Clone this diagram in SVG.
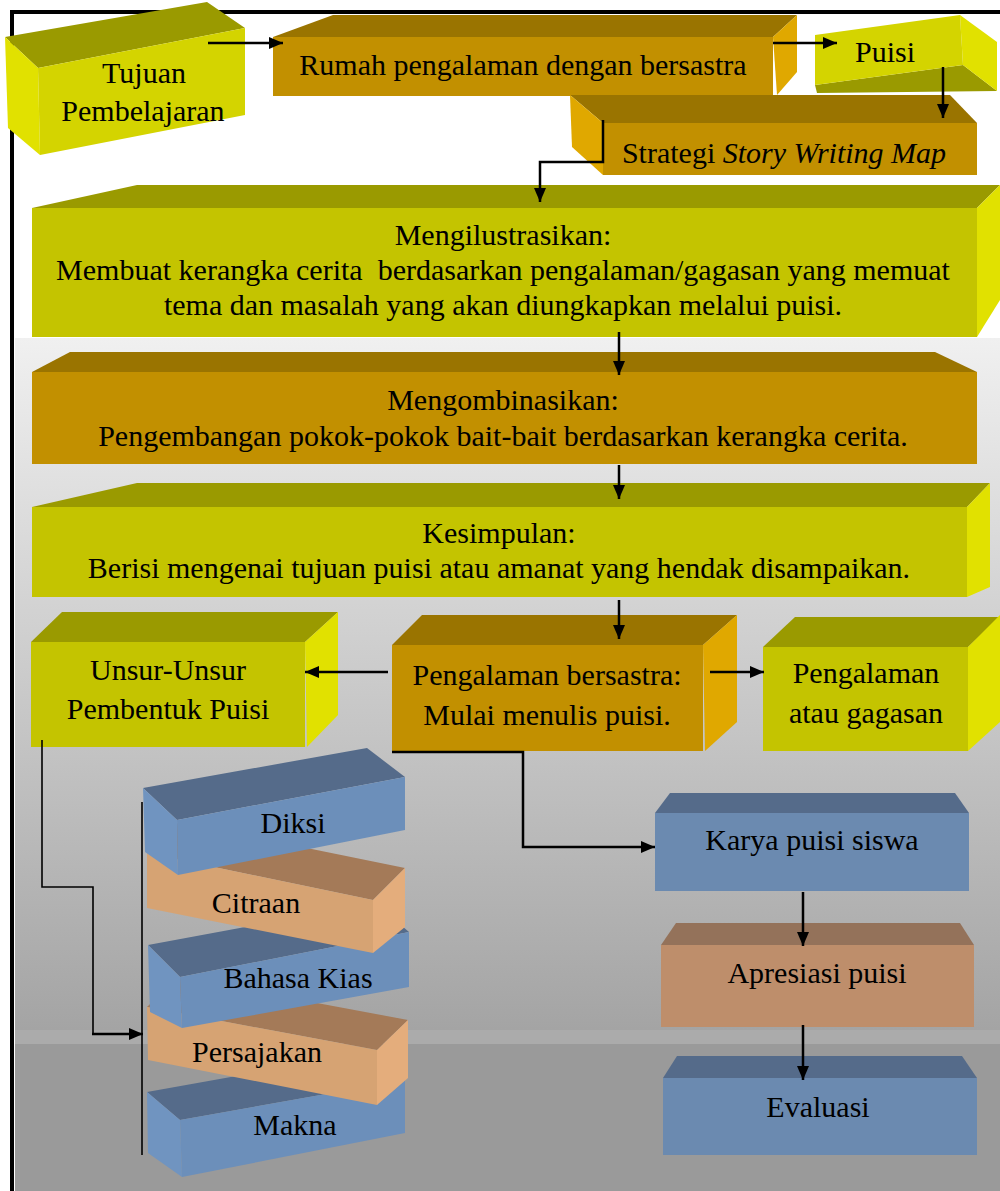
<svg xmlns="http://www.w3.org/2000/svg" width="1000" height="1191" viewBox="0 0 1000 1191">
<defs>
<linearGradient id="bg" x1="0" y1="0" x2="0" y2="1">
<stop offset="0" stop-color="#f0f0f0"/>
<stop offset="1" stop-color="#a4a4a4"/>
</linearGradient>
<marker id="ah" markerUnits="userSpaceOnUse" viewBox="0 0 14 12" refX="14" refY="6" markerWidth="14" markerHeight="12" orient="auto">
<path d="M0,0 L14,6 L0,12 z" fill="#000"/>
</marker>
<style>
text{font-family:"Liberation Serif","Times New Roman",serif;font-size:30px;fill:#000;text-anchor:middle}
.yt{fill:#9a9a00}.yf{fill:#c4c400}.ys{fill:#e1e100}.yf2{fill:#d4d400}
.ot{fill:#9a7400}.of{fill:#c29000}.os{fill:#e0a800}
.bt{fill:#556b8a}.bf{fill:#6b8ab0}.bs{fill:#7094c0}.bf2{fill:#6c8fba}
.tt{fill:#94725a}.tf{fill:#be8e6b}.tt2{fill:#a47a58}.tf2{fill:#d6a373}.ts2{fill:#e4ad7c}
.c{fill:none;stroke:#000;stroke-width:2.5}
.thin{fill:none;stroke:#000;stroke-width:1.6}
</style>
</defs>
<rect width="1000" height="1191" fill="#fff"/>
<rect x="15" y="338" width="985" height="692" fill="url(#bg)"/>
<rect x="15" y="1030" width="985" height="14" fill="#ababab"/>
<rect x="15" y="1044" width="985" height="147" fill="#9a9a9a"/>
<path d="M12,1191 V12 H1000" fill="none" stroke="#000" stroke-width="4"/>

<g id="tujuan">
<polygon class="yt" points="5,37 207,2 245,28 38,68"/>
<polygon class="ys" points="5,37 38,68 40,155 8,128"/>
<polygon class="yf2" points="38,68 245,28 245,115 40,155"/>
<text x="144" y="83">Tujuan</text>
<text x="143" y="121">Pembelajaran</text>
</g>

<g id="rumah">
<polygon class="ot" points="273,37 333,15 797,15 773,37"/>
<polygon class="os" points="773,37 797,15 797,72 777,95"/>
<rect class="of" x="273" y="37" width="500" height="59"/>
<text x="523" y="75">Rumah pengalaman dengan bersastra</text>
</g>

<g id="puisi">
<polygon class="yt" points="815,85 963,65 997,91 817,93"/>
<polygon class="ys" points="960,15 997,42 997,91 963,65"/>
<polygon class="yf2" points="815,35 960,15 963,65 815,85"/>
<text x="885" y="62">Puisi</text>
</g>

<g id="strategi">
<polygon class="ot" points="570,95 950,95 977,123 603,123"/>
<polygon class="os" points="570,95 603,123 603,175 572,147"/>
<rect class="of" x="603" y="123" width="374" height="52"/>
<text x="784" y="163">Strategi <tspan font-style="italic">Story Writing Map</tspan></text>
</g>

<g id="mengilustrasikan">
<polygon class="yt" points="32,208 137,185 1000,185 977,208"/>
<polygon class="ys" points="977,208 1000,185 1000,300 977,337"/>
<rect class="yf" x="32" y="208" width="945" height="129"/>
<text x="503" y="245">Mengilustrasikan:</text>
<text x="503" y="280">Membuat kerangka cerita&#160; berdasarkan pengalaman/gagasan yang memuat</text>
<text x="503" y="315">tema dan masalah yang akan diungkapkan melalui puisi.</text>
</g>

<g id="mengombinasikan">
<polygon class="ot" points="32,372 70,352 935,352 977,372"/>
<rect class="of" x="32" y="372" width="945" height="92"/>
<text x="503" y="410">Mengombinasikan:</text>
<text x="503" y="446">Pengembangan pokok-pokok bait-bait berdasarkan kerangka cerita.</text>
</g>

<g id="kesimpulan">
<polygon class="yt" points="32,507 137,483 990,483 967,507"/>
<polygon class="ys" points="967,507 990,483 990,587 967,597"/>
<rect class="yf" x="32" y="507" width="935" height="90"/>
<text x="499" y="543">Kesimpulan:</text>
<text x="499" y="578">Berisi mengenai tujuan puisi atau amanat yang hendak disampaikan.</text>
</g>

<g id="unsur">
<polygon class="yt" points="31,642 62,612 338,612 305,642"/>
<polygon class="ys" points="305,642 338,612 338,715 307,747"/>
<rect class="yf" x="31" y="642" width="274" height="105"/>
<text x="168" y="680">Unsur-Unsur</text>
<text x="168" y="719">Pembentuk Puisi</text>
</g>

<g id="pengalaman-bersastra">
<polygon class="ot" points="392,645 422,615 737,615 703,645"/>
<polygon class="os" points="703,645 737,615 737,722 705,751"/>
<rect class="of" x="392" y="645" width="311" height="106"/>
<text x="547" y="685">Pengalaman bersastra:</text>
<text x="547" y="725">Mulai menulis puisi.</text>
</g>

<g id="pengalaman-gagasan">
<polygon class="yt" points="763,647 795,617 1000,617 968,647"/>
<polygon class="ys" points="968,647 1000,615 1000,722 968,751"/>
<rect class="yf" x="763" y="647" width="205" height="104"/>
<text x="866" y="683">Pengalaman</text>
<text x="866" y="723">atau gagasan</text>
</g>

<g id="karya">
<polygon class="bt" points="655,813 670,793 955,793 969,813"/>
<rect class="bf" x="655" y="813" width="314" height="78"/>
<text x="812" y="850">Karya puisi siswa</text>
</g>

<g id="apresiasi">
<polygon class="tt" points="661,945 676,923 960,923 974,945"/>
<rect class="tf" x="661" y="945" width="313" height="82"/>
<text x="817" y="983">Apresiasi puisi</text>
</g>

<g id="evaluasi">
<polygon class="bt" points="663,1078 677,1056 962,1056 977,1078"/>
<rect class="bf" x="663" y="1078" width="314" height="77"/>
<text x="818" y="1117">Evaluasi</text>
</g>

<g id="makna">
<polygon class="bt" points="147,1092 372,1052 405,1080 180,1120"/>
<polygon class="bs" points="147,1092 180,1120 182,1177 148,1153"/>
<polygon class="bf2" points="180,1120 405,1080 405,1133 182,1177"/>
<text x="295" y="1135">Makna</text>
</g>

<g id="persajakan">
<polygon class="tt2" points="147,1007 178,977 408,1020 377,1050"/>
<polygon class="ts2" points="377,1050 408,1020 408,1078 377,1105"/>
<polygon class="tf2" points="147,1007 377,1050 377,1105 148,1060"/>
<text x="257" y="1062">Persajakan</text>
</g>

<g id="bahasa-kias">
<polygon class="bt" points="148,945 375,903 409,932 180,977"/>
<polygon class="bs" points="148,945 180,977 182,1028 150,1012"/>
<polygon class="bf2" points="180,977 409,932 409,987 182,1028"/>
<text x="298" y="988">Bahasa Kias</text>
</g>

<g id="citraan">
<polygon class="tt2" points="147,853 179,822 405,868 373,900"/>
<polygon class="ts2" points="373,900 405,868 405,927 373,953"/>
<polygon class="tf2" points="147,853 373,900 373,953 147,908"/>
<text x="256" y="913">Citraan</text>
</g>

<g id="diksi">
<polygon class="bt" points="143,788 367,748 405,777 177,820"/>
<polygon class="bs" points="143,788 177,820 178,875 145,852"/>
<polygon class="bf2" points="177,820 405,777 405,830 178,875"/>
<text x="293" y="833">Diksi</text>
</g>

<g id="connectors">
<path class="c" d="M208,43 H283" marker-end="url(#ah)"/>
<path class="c" d="M773,43 H837" marker-end="url(#ah)"/>
<path class="c" d="M943,67 V118" marker-end="url(#ah)"/>
<path class="c" d="M603,120 V162 H540 V202" marker-end="url(#ah)"/>
<path class="c" d="M619,332 V375" marker-end="url(#ah)"/>
<path class="c" d="M619,465 V499" marker-end="url(#ah)"/>
<path class="c" d="M619,600 V639" marker-end="url(#ah)"/>
<path class="c" d="M388,672 H305" marker-end="url(#ah)"/>
<path class="c" d="M710,672 H764" marker-end="url(#ah)"/>
<path class="c" d="M392,752 H523 V847 H655" marker-end="url(#ah)"/>
<path class="thin" d="M42,740 V887 H93 V1034"/>
<path class="c" d="M92,1034 H143" marker-end="url(#ah)"/>
<path class="thin" d="M142,802 V1155"/>
<path class="c" d="M803,892 V946" marker-end="url(#ah)"/>
<path class="c" d="M803,1025 V1080" marker-end="url(#ah)"/>
</g>
</svg>
